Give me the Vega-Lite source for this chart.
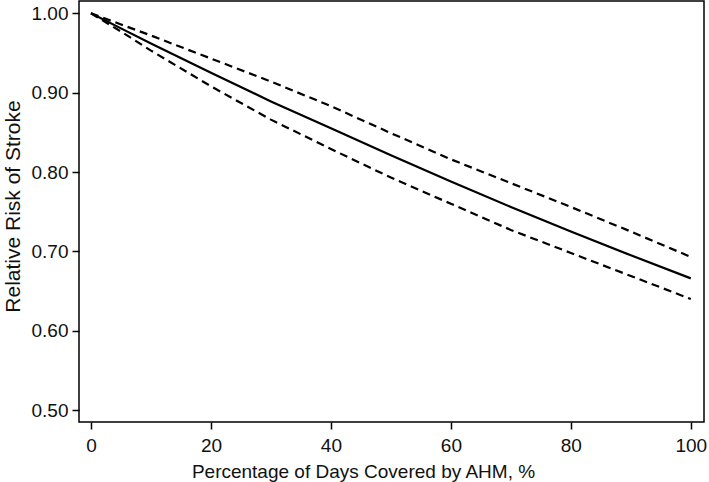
{
  "$schema": "https://vega.github.io/schema/vega-lite/v6.json",
  "autosize": "none",
  "width": 625,
  "height": 421,
  "padding": {"left": 79, "top": 1, "right": 5, "bottom": 60},
  "background": "white",
  "config": {
    "view": {"stroke": "black", "strokeWidth": 1.5},
    "font": "Liberation Sans",
    "axis": {
      "grid": false,
      "domain": false,
      "tickColor": "black",
      "tickSize": 7,
      "tickWidth": 1.5,
      "labelFont": "Liberation Sans",
      "labelFontSize": 19,
      "labelColor": "#111",
      "titleFont": "Liberation Sans",
      "titleFontSize": 19,
      "titleFontWeight": "normal",
      "titleColor": "#111"
    }
  },
  "data": {
    "values": [
      {"x": 0, "est": 1.000, "lo": 1.000, "hi": 1.000},
      {"x": 5, "est": 0.981, "lo": 0.977, "hi": 0.986},
      {"x": 10, "est": 0.962, "lo": 0.953, "hi": 0.972},
      {"x": 20, "est": 0.925, "lo": 0.908, "hi": 0.943},
      {"x": 30, "est": 0.889, "lo": 0.866, "hi": 0.914},
      {"x": 40, "est": 0.855, "lo": 0.829, "hi": 0.883},
      {"x": 50, "est": 0.821, "lo": 0.793, "hi": 0.849},
      {"x": 60, "est": 0.788, "lo": 0.760, "hi": 0.816},
      {"x": 70, "est": 0.756, "lo": 0.727, "hi": 0.786},
      {"x": 80, "est": 0.725, "lo": 0.698, "hi": 0.756},
      {"x": 90, "est": 0.695, "lo": 0.669, "hi": 0.725},
      {"x": 100, "est": 0.666, "lo": 0.640, "hi": 0.693}
    ]
  },
  "encoding": {
    "x": {
      "field": "x",
      "type": "quantitative",
      "scale": {"domain": [-2, 102.2], "nice": false, "zero": false},
      "axis": {
        "values": [0, 20, 40, 60, 80, 100],
        "labelPadding": 7,
        "title": "Percentage of Days Covered by AHM, %",
        "titleX": 284,
        "titleY": 55,
        "titleBaseline": "alphabetic"
      }
    }
  },
  "layer": [
    {
      "mark": {"type": "line", "color": "black", "strokeWidth": 2.2},
      "encoding": {
        "y": {
          "field": "est",
          "type": "quantitative",
          "scale": {"domain": [0.485, 1.0155], "nice": false, "zero": false},
          "axis": {
            "values": [0.5, 0.6, 0.7, 0.8, 0.9, 1.0],
            "format": ".2f",
            "labelPadding": 4,
            "title": "Relative Risk of Stroke",
            "titleFontSize": 21,
            "titleX": -60,
            "titleY": 205,
            "titleBaseline": "alphabetic"
          }
        }
      }
    },
    {
      "mark": {"type": "line", "color": "black", "strokeWidth": 2.2, "strokeDash": [8, 5]},
      "encoding": {"y": {"field": "lo", "type": "quantitative"}}
    },
    {
      "mark": {"type": "line", "color": "black", "strokeWidth": 2.2, "strokeDash": [8, 5]},
      "encoding": {"y": {"field": "hi", "type": "quantitative"}}
    }
  ]
}
